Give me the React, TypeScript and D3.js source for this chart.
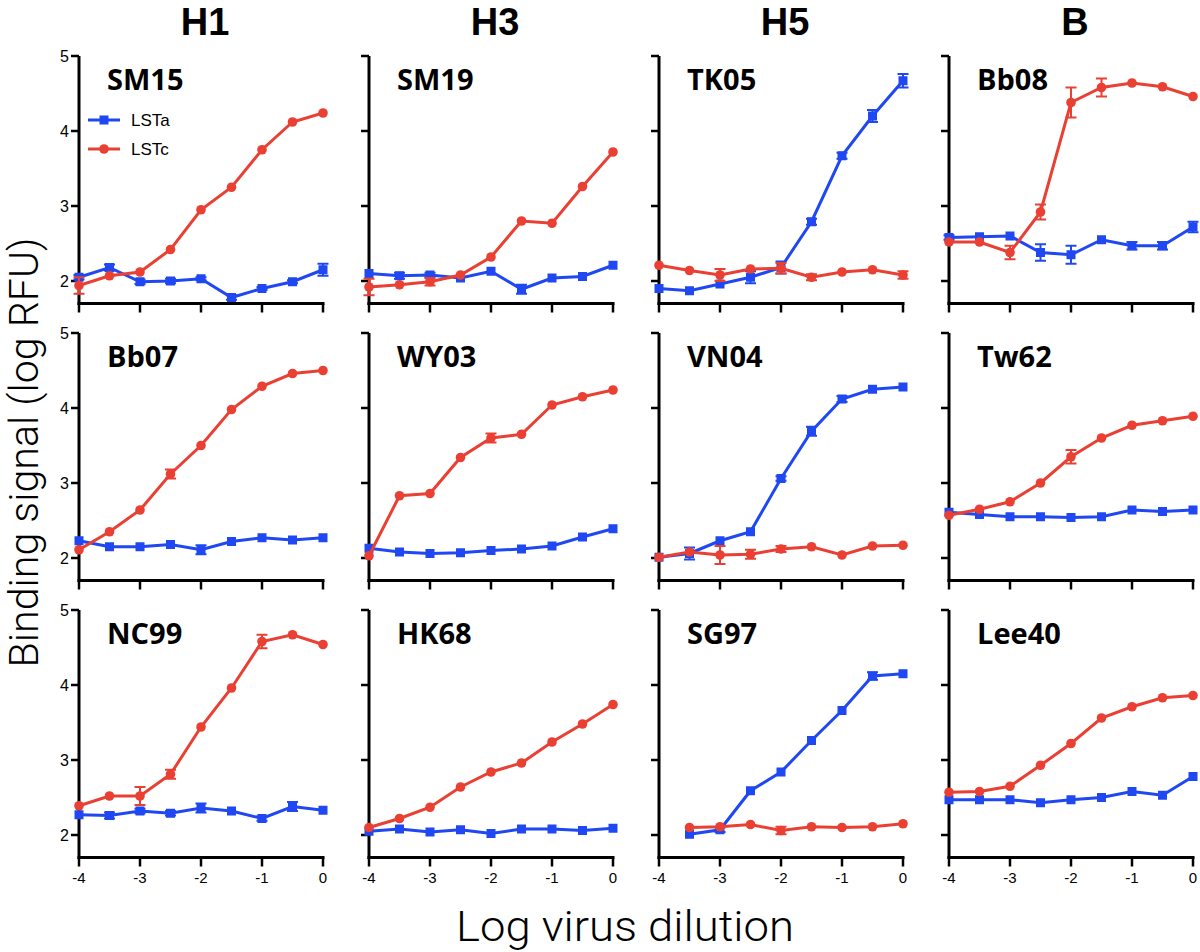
import React from "react";
import * as d3 from "d3";

// ---- data ----
const X_VALUES = [-4, -3.5, -3, -2.5, -2, -1.5, -1, -0.5, 0];
const X_TICKS = [-4, -3, -2, -1, 0];
const X_TICK_LABELS = ["-4", "-3", "-2", "-1", "0"];
const Y_TICKS = [2, 3, 4, 5];
const Y_TICK_LABELS = ["2", "3", "4", "5"];
const COLUMN_HEADERS = ["H1", "H3", "H5", "B"];
const SERIES_NAMES = ["LSTa", "LSTc"];
const PANEL_NAMES = [
  ["SM15", "SM19", "TK05", "Bb08"],
  ["Bb07", "WY03", "VN04", "Tw62"],
  ["NC99", "HK68", "SG97", "Lee40"],
];

const SM15_LSTa = [2.05, 2.18, 1.99, 2.0, 2.03, 1.78, 1.9, 1.99, 2.15];
const SM15_LSTa_err = [0.03, 0.04, 0.03, 0.03, 0.02, 0.03, 0.02, 0.02, 0.08];
const SM15_LSTc = [1.94, 2.07, 2.12, 2.42, 2.95, 3.25, 3.75, 4.12, 4.24];
const SM15_LSTc_err = [0.11, 0, 0, 0, 0, 0, 0, 0, 0];

const SM19_LSTa = [2.1, 2.07, 2.08, 2.04, 2.13, 1.89, 2.04, 2.06, 2.21];
const SM19_LSTa_err = [0, 0.04, 0.03, 0, 0, 0.06, 0, 0, 0];
const SM19_LSTc = [1.92, 1.95, 1.99, 2.08, 2.32, 2.8, 2.77, 3.26, 3.72];
const SM19_LSTc_err = [0.11, 0, 0.05, 0, 0, 0, 0, 0, 0];

const TK05_LSTa = [1.9, 1.87, 1.96, 2.05, 2.18, 2.79, 3.67, 4.2, 4.67];
const TK05_LSTa_err = [0, 0, 0, 0.08, 0.08, 0.04, 0.04, 0.08, 0.09];
const TK05_LSTc = [2.21, 2.14, 2.08, 2.16, 2.17, 2.05, 2.12, 2.15, 2.08];
const TK05_LSTc_err = [0, 0, 0.08, 0, 0.07, 0.04, 0, 0, 0.05];

const Bb08_LSTa = [2.58, 2.59, 2.6, 2.38, 2.35, 2.55, 2.47, 2.47, 2.72];
const Bb08_LSTa_err = [0.03, 0, 0, 0.11, 0.12, 0, 0.05, 0.05, 0.07];
const Bb08_LSTc = [2.52, 2.52, 2.38, 2.92, 4.38, 4.58, 4.64, 4.59, 4.46];
const Bb08_LSTc_err = [0, 0, 0.09, 0.1, 0.2, 0.12, 0, 0, 0];

const Bb07_LSTa = [2.23, 2.15, 2.15, 2.18, 2.11, 2.22, 2.27, 2.24, 2.27];
const Bb07_LSTa_err = [0, 0, 0, 0, 0.06, 0, 0, 0, 0];
const Bb07_LSTc = [2.11, 2.35, 2.64, 3.12, 3.5, 3.98, 4.29, 4.46, 4.5];
const Bb07_LSTc_err = [0, 0, 0, 0.06, 0, 0, 0, 0, 0];

const WY03_LSTa = [2.13, 2.08, 2.06, 2.07, 2.1, 2.12, 2.16, 2.28, 2.39];
const WY03_LSTa_err = [0, 0, 0, 0, 0, 0, 0, 0, 0];
const WY03_LSTc = [2.03, 2.83, 2.86, 3.34, 3.6, 3.65, 4.04, 4.15, 4.24];
const WY03_LSTc_err = [0, 0, 0, 0, 0.06, 0, 0, 0, 0];

const VN04_LSTa = [2.01, 2.06, 2.23, 2.35, 3.06, 3.69, 4.12, 4.25, 4.28];
const VN04_LSTa_err = [0, 0.08, 0, 0, 0.03, 0.06, 0.04, 0, 0];
const VN04_LSTc = [2.01, 2.08, 2.04, 2.05, 2.12, 2.15, 2.04, 2.16, 2.17];
const VN04_LSTc_err = [0, 0, 0.12, 0.06, 0.04, 0, 0, 0, 0];

const Tw62_LSTa = [2.61, 2.58, 2.55, 2.55, 2.54, 2.55, 2.64, 2.62, 2.64];
const Tw62_LSTa_err = [0, 0, 0, 0, 0, 0, 0, 0, 0];
const Tw62_LSTc = [2.57, 2.65, 2.75, 3.0, 3.35, 3.6, 3.77, 3.83, 3.89];
const Tw62_LSTc_err = [0, 0, 0, 0, 0.09, 0, 0, 0, 0];

const NC99_LSTa = [2.27, 2.26, 2.32, 2.29, 2.36, 2.32, 2.22, 2.38, 2.33];
const NC99_LSTa_err = [0, 0.04, 0.03, 0.03, 0.06, 0, 0.03, 0.06, 0];
const NC99_LSTc = [2.39, 2.52, 2.52, 2.81, 3.44, 3.96, 4.58, 4.67, 4.54];
const NC99_LSTc_err = [0, 0, 0.12, 0.06, 0, 0, 0.09, 0, 0];

const HK68_LSTa = [2.05, 2.08, 2.04, 2.07, 2.02, 2.08, 2.08, 2.06, 2.09];
const HK68_LSTa_err = [0, 0, 0, 0, 0, 0, 0, 0, 0];
const HK68_LSTc = [2.1, 2.22, 2.37, 2.64, 2.84, 2.96, 3.24, 3.48, 3.74];
const HK68_LSTc_err = [0, 0, 0, 0, 0, 0, 0, 0, 0];

const SG97_LSTa = [null, 2.01, 2.07, 2.59, 2.84, 3.26, 3.66, 4.12, 4.15];
const SG97_LSTa_err = [0, 0, 0.03, 0, 0, 0, 0, 0.05, 0];
const SG97_LSTc = [null, 2.1, 2.11, 2.14, 2.06, 2.11, 2.1, 2.11, 2.15];
const SG97_LSTc_err = [0, 0, 0, 0, 0.05, 0, 0, 0, 0];

const Lee40_LSTa = [2.47, 2.47, 2.47, 2.43, 2.47, 2.5, 2.58, 2.53, 2.78];
const Lee40_LSTa_err = [0, 0, 0, 0, 0, 0, 0, 0, 0];
const Lee40_LSTc = [2.57, 2.58, 2.65, 2.93, 3.22, 3.56, 3.71, 3.83, 3.86];
const Lee40_LSTc_err = [0, 0, 0, 0, 0, 0, 0, 0, 0];

const PANEL_DATA: Record<string, (number | null)[][]> = {
  SM15: [SM15_LSTa, SM15_LSTa_err, SM15_LSTc, SM15_LSTc_err],
  SM19: [SM19_LSTa, SM19_LSTa_err, SM19_LSTc, SM19_LSTc_err],
  TK05: [TK05_LSTa, TK05_LSTa_err, TK05_LSTc, TK05_LSTc_err],
  Bb08: [Bb08_LSTa, Bb08_LSTa_err, Bb08_LSTc, Bb08_LSTc_err],
  Bb07: [Bb07_LSTa, Bb07_LSTa_err, Bb07_LSTc, Bb07_LSTc_err],
  WY03: [WY03_LSTa, WY03_LSTa_err, WY03_LSTc, WY03_LSTc_err],
  VN04: [VN04_LSTa, VN04_LSTa_err, VN04_LSTc, VN04_LSTc_err],
  Tw62: [Tw62_LSTa, Tw62_LSTa_err, Tw62_LSTc, Tw62_LSTc_err],
  NC99: [NC99_LSTa, NC99_LSTa_err, NC99_LSTc, NC99_LSTc_err],
  HK68: [HK68_LSTa, HK68_LSTa_err, HK68_LSTc, HK68_LSTc_err],
  SG97: [SG97_LSTa, SG97_LSTa_err, SG97_LSTc, SG97_LSTc_err],
  Lee40: [Lee40_LSTa, Lee40_LSTa_err, Lee40_LSTc, Lee40_LSTc_err],
};

// ---- layout / style ----
const COL_X = [79, 369, 659, 949];
const ROW_Y = [56, 333, 610];
const PW = 244;
const PH = 247.5;
const BLUE = "#1f48f2";
const RED = "#ea4034";
const COLORS = [BLUE, RED];

function Panel({ name, row, col }: { name: string; row: number; col: number }) {
  const left = COL_X[col];
  const top = ROW_Y[row];
  const x = d3.scaleLinear().domain([-4, 0]).range([left, left + PW]);
  const y = d3.scaleLinear().domain([1.7, 5]).range([top + PH, top]);
  const [a, aErr, c, cErr] = PANEL_DATA[name];
  const series = [
    { vals: a, errs: aErr, color: BLUE, shape: "square" },
    { vals: c, errs: cErr, color: RED, shape: "circle" },
  ];
  const line = d3
    .line<{ x: number; v: number | null }>()
    .defined((d) => d.v != null)
    .x((d) => x(d.x))
    .y((d) => y(d.v as number));
  const bottom = y(1.7);
  return (
    <g>
      <line x1={left} x2={left} y1={y(5)} y2={bottom + 1.5} stroke="#000" strokeWidth={3} />
      <line x1={left - 1.5} x2={x(0) + 1.5} y1={bottom} y2={bottom} stroke="#000" strokeWidth={3} />
      {Y_TICKS.map((t, i) => (
        <g key={"yt" + t}>
          <line x1={left - 8} x2={left} y1={y(t)} y2={y(t)} stroke="#000" strokeWidth={2.5} />
          {col === 0 && (
            <text
              x={left - 10}
              y={y(t)}
              dy="0.36em"
              textAnchor="end"
              fontFamily="Liberation Sans, Arial, sans-serif"
              fontSize={16}
              fill="#000"
            >
              {Y_TICK_LABELS[i]}
            </text>
          )}
        </g>
      ))}
      {X_TICKS.map((t, i) => (
        <g key={"xt" + t}>
          <line x1={x(t)} x2={x(t)} y1={bottom} y2={bottom + 9} stroke="#000" strokeWidth={2.5} />
          {row === 2 && (
            <text
              x={x(t)}
              y={bottom + 25}
              textAnchor="middle"
              fontFamily="Liberation Sans, Arial, sans-serif"
              fontSize={15}
              fill="#000"
            >
              {X_TICK_LABELS[i]}
            </text>
          )}
        </g>
      ))}
      <text
        x={left + 28}
        y={top + 34}
        fontFamily="Open Sans, sans-serif"
        fontWeight="bold"
        fontSize={29}
        fill="#000"
      >
        {name}
      </text>
      {series.map((s, si) => {
        const pts = X_VALUES.map((xv, i) => ({ x: xv, v: s.vals[i], e: (s.errs[i] as number) || 0 }));
        return (
          <g key={"s" + si}>
            <path d={line(pts) || ""} fill="none" stroke={s.color} strokeWidth={3} />
            {pts
              .filter((p) => p.v != null && p.e > 0)
              .map((p, i) => (
                <g key={"e" + i} stroke={s.color} strokeWidth={2}>
                  <line x1={x(p.x)} x2={x(p.x)} y1={y((p.v as number) - p.e)} y2={y((p.v as number) + p.e)} />
                  <line x1={x(p.x) - 5.5} x2={x(p.x) + 5.5} y1={y((p.v as number) - p.e)} y2={y((p.v as number) - p.e)} />
                  <line x1={x(p.x) - 5.5} x2={x(p.x) + 5.5} y1={y((p.v as number) + p.e)} y2={y((p.v as number) + p.e)} />
                </g>
              ))}
            {pts
              .filter((p) => p.v != null)
              .map((p, i) =>
                s.shape === "square" ? (
                  <rect key={"m" + i} x={x(p.x) - 4.5} y={y(p.v as number) - 4.5} width={9} height={9} fill={s.color} />
                ) : (
                  <circle key={"m" + i} cx={x(p.x)} cy={y(p.v as number)} r={4.8} fill={s.color} />
                )
              )}
          </g>
        );
      })}
      {row === 0 && col === 0 && (
        <g>
          {SERIES_NAMES.map((sn, i) => {
            const ly = top + 64 + i * 29;
            return (
              <g key={sn}>
                <line x1={left + 9} x2={left + 41} y1={ly} y2={ly} stroke={COLORS[i]} strokeWidth={3} />
                {i === 0 ? (
                  <rect x={left + 25 - 4.5} y={ly - 4.5} width={9} height={9} fill={COLORS[i]} />
                ) : (
                  <circle cx={left + 25} cy={ly} r={4.8} fill={COLORS[i]} />
                )}
                <text
                  x={left + 52}
                  y={ly}
                  dy="0.36em"
                  fontFamily="Liberation Sans, Arial, sans-serif"
                  fontSize={17}
                  fill="#000"
                >
                  {sn}
                </text>
              </g>
            );
          })}
        </g>
      )}
    </g>
  );
}

export default function App() {
  return (
    <svg
      width={1200}
      height={952}
      style={{ position: "absolute", left: 0, top: 0, background: "#fff" }}
    >
      <rect x={0} y={0} width={1200} height={952} fill="#fff" />
      {COLUMN_HEADERS.map((h, i) => (
        <text
          key={h}
          x={COL_X[i] + PW / 2 + 4}
          y={35}
          textAnchor="middle"
          fontFamily="Liberation Sans, Arial, sans-serif"
          fontWeight="bold"
          fontSize={38}
          fill="#000"
        >
          {h}
        </text>
      ))}
      {PANEL_NAMES.map((rowNames, r) =>
        rowNames.map((n, c) => <Panel key={n} name={n} row={r} col={c} />)
      )}
      <text
        transform="translate(37.5,452.5) rotate(-90)"
        textAnchor="middle"
        fontFamily="Roboto, sans-serif"
        fontWeight={300}
        fontSize={40}
        textLength={430}
        lengthAdjust="spacingAndGlyphs"
        fill="#000"
      >
        Binding signal (log RFU)
      </text>
      <text
        x={625}
        y={941}
        textAnchor="middle"
        fontFamily="Roboto, sans-serif"
        fontWeight={300}
        fontSize={42}
        textLength={338}
        lengthAdjust="spacingAndGlyphs"
        fill="#000"
      >
        Log virus dilution
      </text>
    </svg>
  );
}
